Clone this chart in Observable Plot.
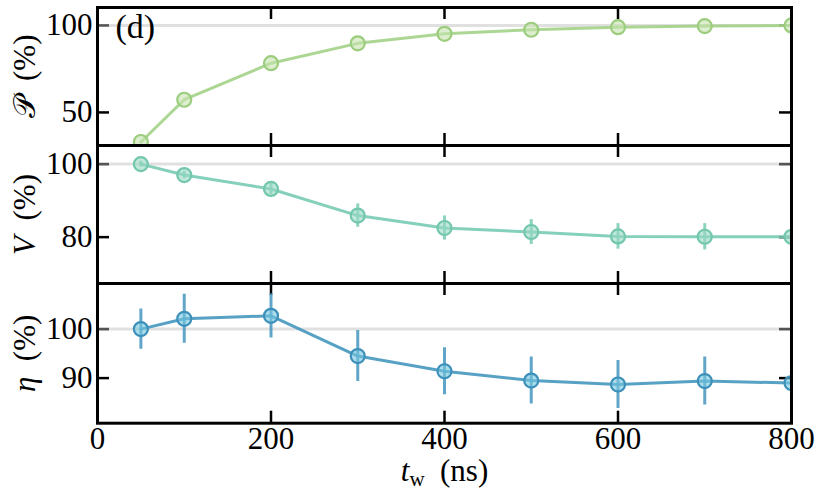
<!DOCTYPE html>
<html><head><meta charset="utf-8">
<script src="https://cdn.jsdelivr.net/npm/d3@7"></script>
<script src="https://cdn.jsdelivr.net/npm/@observablehq/plot@0.6"></script>
<style>
body{margin:0;background:#fff}
#chart{position:relative;width:823px;height:500px;background:#fff}
#chart svg{position:absolute;left:0;top:0}
</style>
</head><body><div id="chart"></div>
<script>
// waiting time (ns)
const tw = [50, 100, 200, 300, 400, 500, 600, 700, 800];
// panel P (%)
const P = [33, 57.3, 78.3, 89.7, 95.2, 97.5, 99.0, 99.6, 100];
// panel V (%)
const V = [100, 97.0, 93.2, 85.9, 82.5, 81.4, 80.2, 80.1, 80.1];
const Verr = [0.8, 1.0, 1.5, 3.2, 3.3, 3.4, 3.5, 3.6, 3.6];
// panel eta (%)
const eta = [100, 102.1, 102.7, 94.5, 91.4, 89.5, 88.7, 89.4, 89.0];
const etaErr = [4.1, 5.0, 4.5, 5.2, 4.8, 4.8, 4.9, 4.9, 4.8];
// tick labels
const xTicks = [0, 200, 400, 600, 800];
const pTicks = [50, 100];
const vTicks = [80, 100];
const etaTicks = [90, 100];

const W = 823, H = 500, ML = 97, MR = 32;
const FONT = "'Liberation Serif', 'DejaVu Serif', serif";
const FS = 31;

const panels = [
  {values: P, err: null, domain: [31, 110.3], ticks: pTicks, top: 7, bottom: 145,
   line: "#a3d287", fill: "#c4e3ac", stroke: "#9ccd7e", label: "__P__"},
  {values: V, err: Verr, domain: [67.3, 105.1], ticks: vTicks, top: 145, bottom: 283,
   line: "#78cbb2", fill: "#9ad8c5", stroke: "#72c7ad", label: "__V__"},
  {values: eta, err: etaErr, domain: [80.8, 109.3], ticks: etaTicks, top: 283, bottom: 422.7,
   line: "#4597bf", fill: "#74c6df", stroke: "#3d90ba", label: "__E__"}
];

const chart = document.getElementById("chart");
const pw = W - ML - MR;

panels.forEach((p, i) => {
  const ph = p.bottom - p.top;
  const data = tw.map((t, j) => ({t, v: p.values[j], e: p.err ? p.err[j] : 0}));
  const marks = [
    Plot.tickY(p.ticks, {y: d => d, stroke: "black", strokeWidth: 2.5, insetRight: pw - 12}),
    Plot.tickY(p.ticks, {y: d => d, stroke: "black", strokeWidth: 2.5, insetLeft: pw - 12}),
    Plot.tickX(xTicks, {x: d => d, stroke: "black", strokeWidth: 2.5, insetBottom: ph - 12}),
    Plot.tickX(xTicks, {x: d => d, stroke: "black", strokeWidth: 2.5, insetTop: ph - 12}),
    Plot.ruleY([100], {stroke: "#bbb", strokeOpacity: 0.45, strokeWidth: 3}),
    p.err ? Plot.ruleX(data, {x: "t", y1: d => d.v - d.e, y2: d => d.v + d.e, stroke: p.line, strokeWidth: 3, strokeOpacity: 0.85, clip: true}) : null,
    Plot.line(data, {x: "t", y: "v", stroke: p.line, strokeWidth: 3, strokeOpacity: 0.9, clip: true}),
    Plot.dot(data, {x: "t", y: "v", r: 7, fill: p.fill, fillOpacity: 0.6, stroke: p.stroke, strokeWidth: 2.2, clip: true}),
    Plot.frame({stroke: "black", strokeWidth: 3}),
    Plot.axisY({ticks: p.ticks, tickSize: 0, tickPadding: 5, fontSize: FS, label: null}),
    Plot.text([p.label], {frameAnchor: "left", textAnchor: "middle", lineAnchor: "middle", dx: -72, rotate: -90, fontSize: FS, fill: "black"})
  ];
  if (i === 0) {
    marks.push(Plot.text(["(d)"], {frameAnchor: "top-left", dx: 18, dy: 6, lineAnchor: "top", textAnchor: "start", fontSize: 34, fill: "black"}));
  }
  if (i === 2) {
    marks.push(Plot.axisX({ticks: xTicks, tickSize: 0, tickPadding: 4, fontSize: FS, label: null}));
    marks.push(Plot.text(["__X__"], {frameAnchor: "bottom", textAnchor: "middle", lineAnchor: "middle", dy: 48, fontSize: FS, fill: "black"}));
  } else {
    marks.push(Plot.axisX({ticks: [], label: null, tickSize: 0}));
  }
  const svg = Plot.plot({
    width: W, height: H,
    marginLeft: ML, marginRight: MR, marginTop: p.top, marginBottom: H - p.bottom,
    x: {domain: [0, 800]},
    y: {domain: p.domain},
    style: {fontFamily: FONT, fontSize: FS + "px", background: "transparent", overflow: "visible", color: "black"},
    marks: marks.filter(Boolean)
  });
  chart.appendChild(svg);
});

// rich text for labels
function rich(placeholder, parts) {
  d3.select(chart).selectAll("text").each(function() {
    if (this.textContent === placeholder) {
      const t = d3.select(this);
      t.text(null);
      parts.forEach(pt => {
        const s = t.append("tspan").text(pt.text);
        if (pt.italic) s.attr("font-style", "italic");
        if (pt.size) s.attr("font-size", pt.size);
        if (pt.shift) s.attr("baseline-shift", pt.shift);
        if (pt.family) s.attr("font-family", pt.family);
      });
    }
  });
}
rich("__P__", [{text: "𝒫", family: "'DejaVu Serif', 'DejaVu Sans', serif"}, {text: "\u2002(%)"}]);
rich("__V__", [{text: "V", italic: true}, {text: "\u2002(%)"}]);
rich("__E__", [{text: "η", italic: true}, {text: "\u2002(%)"}]);
rich("__X__", [{text: "t", italic: true}, {text: "w", size: 21, shift: "-5"}, {text: "\u2002(ns)"}]);
</script>
</body></html>
